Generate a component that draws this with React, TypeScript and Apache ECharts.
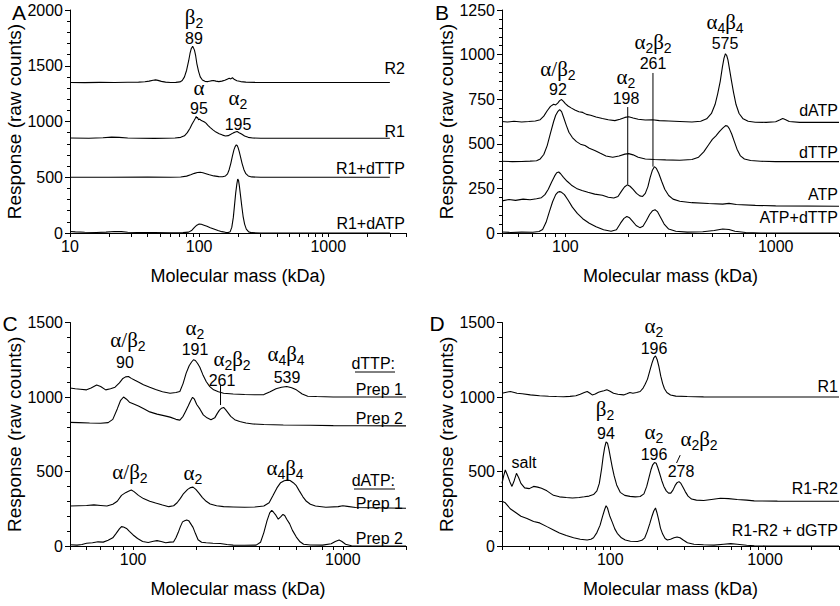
import React, { useEffect, useRef } from "react";
import * as echarts from "echarts";

type Pt = [number, number];

// ---------- Panel A ----------
const A_R2: Pt[] = [[10,1350],[13,1349],[17,1351],[22,1350],[28,1352],[34,1353],[38,1356],[41,1362],[44,1370],[46,1373],[48,1369],[51,1360],[55,1353],[60,1350],[66,1351],[71,1355],[74,1368],[77,1400],[80,1460],[83,1545],[85,1610],[87,1655],[88,1662],[89,1676],[90,1665],[92,1640],[94,1590],[96,1520],[99,1450],[102,1400],[106,1372],[111,1360],[117,1358],[123,1364],[129,1368],[135,1362],[142,1358],[150,1362],[158,1370],[165,1380],[171,1388],[176,1382],[181,1392],[188,1376],[196,1366],[210,1358],[230,1353],[270,1351],[350,1350],[500,1350],[1000,1350],[3000,1350]];
const A_R1: Pt[] = [[10,852],[14,850],[18,854],[21,860],[24,858],[28,852],[35,850],[45,849],[55,850],[65,852],[72,858],[77,872],[81,900],[85,940],[88,975],[91,1005],[93,1025],[95,1045],[96,1030],[97,1038],[99,1015],[101,1022],[104,1008],[107,1002],[110,995],[113,985],[117,965],[122,945],[128,925],[135,905],[143,890],[152,878],[160,870],[168,873],[176,885],[184,898],[191,905],[197,910],[204,900],[213,888],[225,870],[240,858],[260,852],[300,850],[500,850],[1000,850],[3000,850]];
const A_R1_DTTP: Pt[] = [[10,500],[20,500],[40,501],[60,500],[72,502],[80,510],[86,522],[92,535],[97,542],[102,545],[107,540],[113,532],[120,522],[130,512],[142,506],[152,505],[160,512],[166,530],[171,570],[176,625],[181,690],[186,745],[190,775],[194,790],[197,785],[200,768],[204,735],[209,685],[215,625],[222,570],[230,532],[240,512],[255,503],[300,500],[600,500],[1000,500],[3000,500]];
const A_R1_DATP: Pt[] = [[10,14],[11,10],[13,7],[16,5],[19,8],[22,14],[25,12],[28,7],[33,4],[45,3],[60,2],[75,3],[83,8],[88,25],[92,50],[96,70],[100,80],[104,78],[109,70],[115,60],[122,48],[130,36],[140,22],[150,12],[160,6],[168,4],[174,12],[179,50],[184,140],[188,250],[192,360],[196,440],[199,484],[202,470],[205,420],[209,340],[214,240],[219,150],[225,80],[232,35],[242,10],[255,3],[300,0],[1000,0],[3000,0]];

// ---------- Panel B ----------
const B_DATP: Pt[] = [[50,625],[53,622],[57,626],[62,622],[67,625],[72,628],[76,635],[79,655],[82,685],[85,710],[88,722],[90,718],[92,728],[94,742],[96,748],[98,738],[100,725],[103,712],[107,700],[111,690],[116,680],[121,676],[126,665],[132,660],[140,650],[150,642],[160,635],[172,630],[182,638],[192,648],[200,652],[210,645],[222,638],[240,633],[260,635],[280,630],[310,628],[350,625],[400,622],[440,626],[470,640],[495,670],[515,720],[530,780],[545,850],[558,930],[568,980],[577,1005],[585,995],[593,970],[603,920],[615,860],[630,790],[648,720],[670,670],[700,640],[740,626],[800,621],[900,620],[1000,624],[1050,635],[1080,642],[1110,636],[1160,625],[1300,620],[2000,620]];
const B_DTTP: Pt[] = [[50,402],[56,400],[62,401],[68,403],[73,405],[76,415],[79,440],[82,490],[85,560],[88,625],[90,660],[92,680],[94,692],[96,680],[98,650],[101,605],[104,565],[108,535],[113,512],[118,498],[124,490],[130,475],[138,462],[146,448],[156,432],[168,425],[180,432],[192,442],[200,445],[210,438],[222,425],[240,415],[265,412],[300,410],[350,408],[400,412],[430,425],[455,455],[480,495],[500,525],[520,545],[540,568],[560,588],[578,602],[590,600],[602,585],[618,555],[635,515],[655,470],[680,432],[710,415],[760,406],[850,402],[1000,400],[2000,400]];
const B_ATP: Pt[] = [[50,180],[54,188],[58,183],[63,190],[68,186],[73,192],[77,198],[80,215],[83,245],[86,285],[89,320],[91,338],[93,342],[95,332],[98,312],[102,290],[107,268],[113,250],[120,238],[128,228],[138,218],[150,212],[160,200],[170,196],[178,205],[185,235],[191,258],[197,270],[203,262],[210,245],[218,222],[226,208],[233,205],[240,222],[247,260],[253,310],[259,350],[265,372],[271,362],[278,335],[287,290],[297,245],[310,210],[325,190],[350,178],[400,170],[480,165],[560,162],[600,166],[650,160],[800,155],[1000,152],[2000,150]];
const B_ATP_DTTP: Pt[] = [[50,6],[55,3],[62,5],[70,4],[75,8],[78,20],[81,60],[84,120],[87,175],[90,215],[92,228],[94,232],[96,228],[99,215],[103,185],[108,145],[114,110],[121,80],[130,55],[140,35],[152,18],[165,10],[175,18],[183,55],[190,82],[196,92],[202,85],[209,65],[217,42],[226,30],[234,38],[243,70],[252,105],[260,125],[267,130],[274,120],[283,90],[295,50],[310,22],[335,10],[380,5],[450,7],[510,14],[560,22],[600,20],[640,10],[720,3],[850,0],[2000,0]];
const B_LINE_A2: Pt[] = [[198,272],[198,706]];
const B_LINE_A2B2: Pt[] = [[261,372],[261,897]];

// ---------- Panel C ----------
const C_DTTP1: Pt[] = [[50,1060],[53,1055],[56,1052],[60,1048],[63,1060],[67,1080],[70,1070],[74,1048],[78,1055],[82,1066],[86,1095],[89,1122],[92,1135],[95,1138],[98,1125],[102,1112],[107,1098],[112,1082],[120,1065],[128,1050],[138,1035],[150,1025],[160,1030],[167,1037],[173,1090],[179,1160],[185,1210],[190,1235],[194,1250],[198,1245],[203,1225],[208,1200],[215,1150],[223,1104],[232,1070],[242,1048],[255,1035],[270,1025],[300,1020],[340,1017],[380,1015],[420,1016],[450,1035],[480,1055],[510,1065],[540,1070],[570,1062],[600,1048],[640,1020],[680,1005],[750,1003],[900,1000],[2000,1000]];
const C_DTTP2: Pt[] = [[50,830],[55,828],[62,825],[70,824],[76,828],[80,850],[84,920],[87,975],[90,1000],[93,985],[96,965],[100,955],[106,940],[113,920],[120,900],[130,885],[140,875],[150,865],[160,850],[167,845],[173,870],[178,905],[183,940],[188,975],[192,998],[196,985],[201,950],[208,920],[216,880],[225,860],[235,848],[245,860],[252,890],[258,912],[264,925],[270,930],[276,915],[283,895],[292,870],[305,848],[322,835],[345,825],[373,819],[420,815],[520,812],[700,810],[900,808],[1200,807],[2000,806]];
const C_DATP1: Pt[] = [[50,268],[55,270],[60,272],[65,276],[70,272],[75,268],[80,280],[84,300],[88,340],[92,358],[95,368],[98,376],[101,365],[106,340],[112,318],[120,300],[128,288],[138,275],[148,264],[156,270],[162,290],[168,320],[174,352],[182,380],[188,392],[193,395],[199,380],[206,355],[214,325],[223,300],[233,282],[250,270],[270,264],[300,262],[340,260],[380,262],[420,268],[445,290],[465,340],[485,390],[505,425],[525,438],[545,442],[560,440],[580,425],[600,405],[620,370],[645,330],[670,300],[700,280],[740,268],[830,260],[950,264],[1000,270],[1050,266],[1150,258],[2000,253]];
const C_DATP2: Pt[] = [[50,8],[54,6],[57,10],[60,18],[64,22],[68,28],[72,26],[76,38],[80,55],[83,85],[86,115],[88,130],[90,128],[93,118],[96,98],[100,74],[105,50],[111,30],[118,24],[125,32],[130,36],[136,30],[143,22],[150,26],[156,28],[160,55],[164,90],[168,130],[172,162],[176,170],[180,175],[184,170],[188,150],[193,125],[198,85],[204,42],[212,25],[223,22],[240,18],[260,17],[280,10],[300,6],[340,5],[386,6],[405,25],[420,90],[435,170],[448,222],[458,240],[468,225],[480,205],[492,180],[505,195],[518,212],[528,205],[540,180],[557,150],[575,105],[600,60],[625,28],[650,12],[700,7],[800,6],[880,15],[920,30],[960,40],[990,30],[1030,12],[1100,2],[2000,0]];
const C_LINE_A2B2: Pt[] = [[261,946],[261,1080]];

// ---------- Panel D ----------
const D_R1: Pt[] = [[20,1025],[21,1030],[22.6,1037],[24,1030],[25,1025],[27,1022],[30.5,1014],[35,1008],[40,1005],[45,1003],[50,1002],[55,1004],[60,1008],[64,1019],[68,1030],[71,1037],[74,1025],[76.5,1014],[80,1020],[84,1032],[87,1037],[91,1042],[95,1048],[99,1040],[105,1025],[112,1018],[122,1014],[128,1022],[134,1030],[140,1025],[148,1030],[156,1037],[163,1060],[168,1085],[174,1120],[180,1175],[186,1227],[191,1262],[196,1276],[201,1250],[206,1205],[212,1140],[218,1090],[224,1055],[232,1030],[245,1014],[265,1006],[314,1003],[400,1001],[600,1000],[1000,1000],[3000,1000]];
const D_R1R2: Pt[] = [[20,420],[20.5,470],[21,510],[21.6,480],[22.5,430],[23.2,400],[24,440],[24.8,488],[25.6,460],[26.5,420],[28,390],[30,385],[32,400],[34,395],[36,387],[39,370],[43,340],[47,330],[52,325],[57,322],[63,325],[68,330],[73,335],[78,345],[82,370],[85,420],[88,520],[90,600],[92,660],[94,698],[96,690],[98,650],[100,600],[103,530],[106,470],[110,410],[116,360],[124,340],[134,333],[145,330],[156,332],[165,350],[172,400],[178,460],[183,510],[188,545],[193,560],[198,555],[203,525],[208,490],[215,440],[222,400],[230,370],[238,355],[246,355],[254,375],[262,405],[270,425],[278,432],[286,420],[295,395],[305,365],[318,335],[335,315],[360,308],[401,305],[450,312],[515,320],[580,318],[660,312],[760,308],[850,303],[1200,301],[3000,300]];
const D_R1R2_DGTP: Pt[] = [[20,300],[21,290],[22.6,250],[24.5,225],[26.5,200],[29,185],[32,165],[35,155],[39,130],[43,108],[47,88],[52,70],[58,55],[64,45],[71,40],[75,45],[78,55],[82,90],[86,140],[89,195],[92,245],[94,270],[96,255],[99,205],[103,160],[107,115],[111,85],[118,55],[125,40],[135,32],[150,30],[160,38],[167,55],[173,95],[180,150],[186,200],[191,235],[196,255],[200,225],[205,180],[211,120],[218,80],[226,50],[234,40],[245,45],[258,55],[270,60],[282,55],[296,40],[315,22],[347,12],[400,8],[468,6],[540,12],[600,16],[660,12],[760,5],[851,2],[1000,0],[3000,0]];
const D_LINE_SLASH: Pt[] = [[268,557],[283,610]];

// ---------- axes ----------
const X_RANGES: [number, number][] = [[10, 4000], [50, 2000], [50, 2000], [20, 3000]];
const X_LABELS: number[][] = [[10, 100, 1000], [100, 1000], [100, 1000], [100, 1000]];
const X_TICKS: number[][] = [
  [10,20,30,40,50,60,70,80,90,100,200,300,400,500,600,700,800,900,1000,2000,3000,4000],
  [50,60,70,80,90,100,200,300,400,500,600,700,800,900,1000,2000],
  [50,60,70,80,90,100,200,300,400,500,600,700,800,900,1000,2000],
  [20,30,40,50,60,70,80,90,100,200,300,400,500,600,700,800,900,1000,2000,3000],
];
const Y_MAX = [2000, 1250, 1500, 1500];
const Y_STEP = [500, 250, 500, 500];

const GRIDS = [
  { left: 70, top: 10, width: 336, height: 223 },
  { left: 502, top: 10, width: 337, height: 223 },
  { left: 70, top: 322.5, width: 336, height: 223.5 },
  { left: 502, top: 322.5, width: 337, height: 223.5 },
];

const FONT = "'Liberation Sans', Arial, Helvetica, sans-serif";
const SERIF = "'Liberation Serif', 'DejaVu Serif', 'Times New Roman', serif";

const RICH = {
  g: { fontFamily: SERIF, fontSize: 21, verticalAlign: "top", lineHeight: 24, fill: "#000" },
  s: { fontFamily: FONT, fontSize: 14, verticalAlign: "bottom", lineHeight: 24, fill: "#000" },
};

function txt(x: number, y: number, text: string, size = 16, align = "center", family = FONT) {
  return {
    type: "text",
    x,
    y,
    silent: true,
    style: {
      text,
      fontSize: size,
      fontFamily: family,
      fill: "#000",
      align,
      verticalAlign: "middle",
      textAlign: align,
      textVerticalAlign: "middle",
      rich: RICH,
    },
  };
}
function hline(x1: number, x2: number, y: number) {
  return { type: "line", silent: true, shape: { x1, y1: y, x2, y2: y }, style: { stroke: "#000", lineWidth: 1 } };
}

const LINE_SERIES: { grid: number; data: Pt[]; w?: number }[] = [
  { grid: 0, data: A_R2 }, { grid: 0, data: A_R1 }, { grid: 0, data: A_R1_DTTP }, { grid: 0, data: A_R1_DATP },
  { grid: 1, data: B_DATP }, { grid: 1, data: B_DTTP }, { grid: 1, data: B_ATP }, { grid: 1, data: B_ATP_DTTP },
  { grid: 1, data: B_LINE_A2, w: 1 }, { grid: 1, data: B_LINE_A2B2, w: 1 },
  { grid: 2, data: C_DTTP1 }, { grid: 2, data: C_DTTP2 }, { grid: 2, data: C_DATP1 }, { grid: 2, data: C_DATP2 },
  { grid: 2, data: C_LINE_A2B2, w: 1 },
  { grid: 3, data: D_R1 }, { grid: 3, data: D_R1R2 }, { grid: 3, data: D_R1R2_DGTP },
  { grid: 3, data: D_LINE_SLASH, w: 1 },
];

export default function App() {
  const ref = useRef<HTMLDivElement>(null);
  useEffect(() => {
    if (!ref.current) return;
    const chart = echarts.init(ref.current, undefined, { renderer: "svg" });
    const xAxis: any[] = [];
    const yAxis: any[] = [];
    GRIDS.forEach((_, i) => {
      const [mn, mx] = X_RANGES[i];
      xAxis.push({ type: "log", logBase: 10, gridIndex: i, min: mn, max: mx, show: false, position: "top" });
      xAxis.push({
        type: "value",
        gridIndex: i,
        position: "bottom",
        min: Math.log10(mn),
        max: Math.log10(mx),
        axisLine: { show: true, onZero: false, lineStyle: { color: "#000", width: 1 } },
        splitLine: { show: false },
        axisTick: { show: true, length: 4, customValues: X_TICKS[i].map((v) => Math.log10(v)), lineStyle: { color: "#000", width: 1 } },
        axisLabel: {
          customValues: X_LABELS[i].map((v) => Math.log10(v)),
          formatter: (v: number) => String(Math.round(Math.pow(10, v))),
          color: "#000",
          fontSize: 16,
          fontFamily: FONT,
          margin: 5,
        },
        name: "Molecular mass (kDa)",
        nameLocation: "middle",
        nameGap: 34,
        nameTextStyle: { color: "#000", fontSize: 18, fontFamily: FONT },
      });
      yAxis.push({
        type: "value",
        gridIndex: i,
        min: 0,
        max: Y_MAX[i],
        interval: Y_STEP[i],
        axisLine: { show: true, lineStyle: { color: "#000", width: 1 } },
        splitLine: { show: false },
        axisTick: { show: true, length: 5, lineStyle: { color: "#000" } },
        minorTick: { show: true, splitNumber: 5, length: 3, lineStyle: { color: "#000" } },
        axisLabel: { color: "#000", fontSize: 16, fontFamily: FONT, margin: 7, formatter: (v: number) => String(v) },
        name: "Response (raw counts)",
        nameLocation: "middle",
        nameGap: 41,
        nameTextStyle: { color: "#000", fontSize: 19, fontFamily: FONT },
      });
    });

    const series = LINE_SERIES.map((s) => ({
      type: "line",
      xAxisIndex: s.grid * 2,
      yAxisIndex: s.grid,
      data: s.data,
      showSymbol: false,
      symbol: "none",
      silent: true,
      lineStyle: { color: "#000", width: s.w ?? 1.1 },
    }));

    const graphic: any[] = [
      // panel letters
      txt(19, 12, "A", 21), txt(442, 12, "B", 21), txt(10, 323, "C", 21), txt(437, 323, "D", 21),
      // A
      txt(194, 18, "{g|β}{s|2}"), txt(194, 38, "89"),
      txt(199, 89, "{g|α}"), txt(199, 108, "95"),
      txt(238, 99, "{g|α}{s|2}"), txt(238, 124, "195"),
      txt(405, 68, "R2", 16, "right"), txt(405, 131, "R1", 16, "right"),
      txt(405, 168, "R1+dTTP", 16, "right"), txt(405, 223, "R1+dATP", 16, "right"),
      // B
      txt(558, 70, "{g|α/β}{s|2}"), txt(558, 89, "92"),
      txt(626, 78, "{g|α}{s|2}"), txt(626, 98, "198"),
      txt(653, 43, "{g|α}{s|2}{g|β}{s|2}"), txt(653, 63, "261"),
      txt(725, 23, "{g|α}{s|4}{g|β}{s|4}"), txt(725, 43, "575"),
      txt(838, 110, "dATP", 16, "right"), txt(838, 152, "dTTP", 16, "right"),
      txt(838, 194, "ATP", 16, "right"), txt(838, 217, "ATP+dTTP", 16, "right"),
      // C
      txt(128, 341, "{g|α/β}{s|2}"), txt(125, 362, "90"),
      txt(195, 329, "{g|α}{s|2}"), txt(195, 349, "191"),
      txt(232, 360, "{g|α}{s|2}{g|β}{s|2}"), txt(222, 380, "261"),
      txt(286, 355, "{g|α}{s|4}{g|β}{s|4}"), txt(287, 377, "539"),
      txt(395, 363, "dTTP:", 16, "right"), hline(355, 395, 372),
      txt(403, 389, "Prep 1", 16, "right"), txt(403, 418, "Prep 2", 16, "right"),
      txt(130, 473, "{g|α/β}{s|2}"), txt(193, 474, "{g|α}{s|2}"), txt(285, 469, "{g|α}{s|4}{g|β}{s|4}"),
      txt(395, 480, "dATP:", 16, "right"), hline(354, 395, 489),
      txt(403, 503, "Prep 1", 16, "right"), txt(403, 538, "Prep 2", 16, "right"),
      // D
      txt(654, 327, "{g|α}{s|2}"), txt(654, 348, "196"),
      txt(605, 410, "{g|β}{s|2}"), txt(606, 433, "94"),
      txt(654, 433, "{g|α}{s|2}"), txt(654, 454, "196"),
      txt(699, 440, "{g|α}{s|2}{g|β}{s|2}"), txt(681, 471, "278"),
      txt(524, 462, "salt"),
      txt(838, 386, "R1", 16, "right"), txt(838, 488, "R1-R2", 16, "right"),
      txt(838, 530, "R1-R2 + dGTP", 16, "right"),
    ];

    chart.setOption({
      animation: false,
      backgroundColor: "#fff",
      grid: GRIDS.map((g) => ({ ...g, containLabel: false })),
      xAxis,
      yAxis,
      series,
      graphic,
    });
    return () => chart.dispose();
  }, []);
  return <div ref={ref} style={{ position: "fixed", left: 0, top: 0, width: 840, height: 606, background: "#fff" }} />;
}
